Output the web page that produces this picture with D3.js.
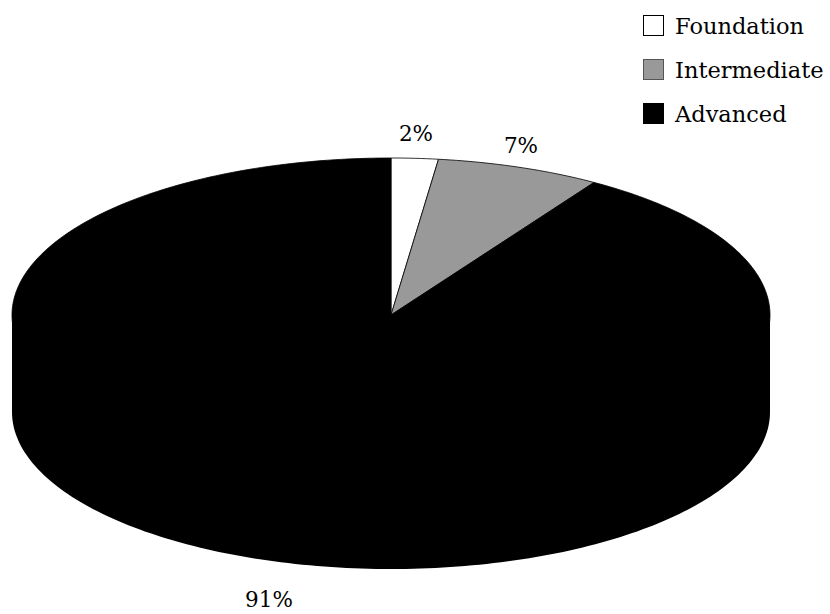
<!DOCTYPE html>
<html><head><meta charset="utf-8">
<script src="https://cdn.jsdelivr.net/npm/d3@7"></script>
<style>body{margin:0;background:#fff}text{font-family:"DejaVu Serif",serif;fill:#000}</style>
</head><body>
<svg id="c" width="830" height="614"></svg>
<script>
const categories = ["Foundation","Intermediate","Advanced"];
const values = [2, 7, 91];
const labels = ["2%","7%","91%"];
const colors = ["#ffffff","#999999","#000000"];

const svg = d3.select("#c");
const cx = 391, cy = 315, rx = 379, ry = 157, depth = 97;

const pie = d3.pie().sort(null).value(d => d)(values);
const pt = (a, dy=0) => [cx + rx*Math.sin(a), cy - ry*Math.cos(a) + dy];

function arcPts(a0, a1, dy=0, n=160) {
  const pts = [];
  for (let i=0;i<=n;i++) pts.push(pt(a0 + (a1-a0)*i/n, dy));
  return pts;
}
const line = d3.line();

// side walls (visible front half: angles PI/2..3PI/2)
pie.forEach((d,i) => {
  const a0 = Math.max(d.startAngle, Math.PI/2), a1 = Math.min(d.endAngle, 3*Math.PI/2);
  if (a1 <= a0) return;
  const top = arcPts(a0, a1, -3);
  const bot = arcPts(a1, a0, depth);
  svg.append("path").attr("d", line(top.concat(bot)) + "Z")
    .attr("fill", colors[i]).attr("stroke", "none");
});

// top slices
pie.forEach((d,i) => {
  const pts = [[cx,cy]].concat(arcPts(d.startAngle, d.endAngle, 0, Math.max(4, Math.ceil((d.endAngle-d.startAngle)*60))));
  svg.append("path").attr("d", line(pts) + "Z")
    .attr("fill", colors[i]).attr("stroke", "#000").attr("stroke-width", 0.8);
});

// labels
const labelPos = [[416,141],[521,153],[269,607]];
labels.forEach((t,i) => {
  svg.append("text").attr("x", labelPos[i][0]).attr("y", labelPos[i][1])
    .attr("text-anchor","middle").attr("font-size", 21.5).text(t);
});

// legend
const lg = svg.append("g");
categories.forEach((c,i) => {
  const y = 15 + i*44;
  lg.append("rect").attr("x",643.5).attr("y",y+0.5).attr("width",20).attr("height",20)
    .attr("fill", colors[i]).attr("stroke", i===1 ? "#555" : "#000").attr("stroke-width",1);
  lg.append("text").attr("x",675).attr("y",y+19).attr("font-size",22.5).text(c);
});
</script>
</body></html>
